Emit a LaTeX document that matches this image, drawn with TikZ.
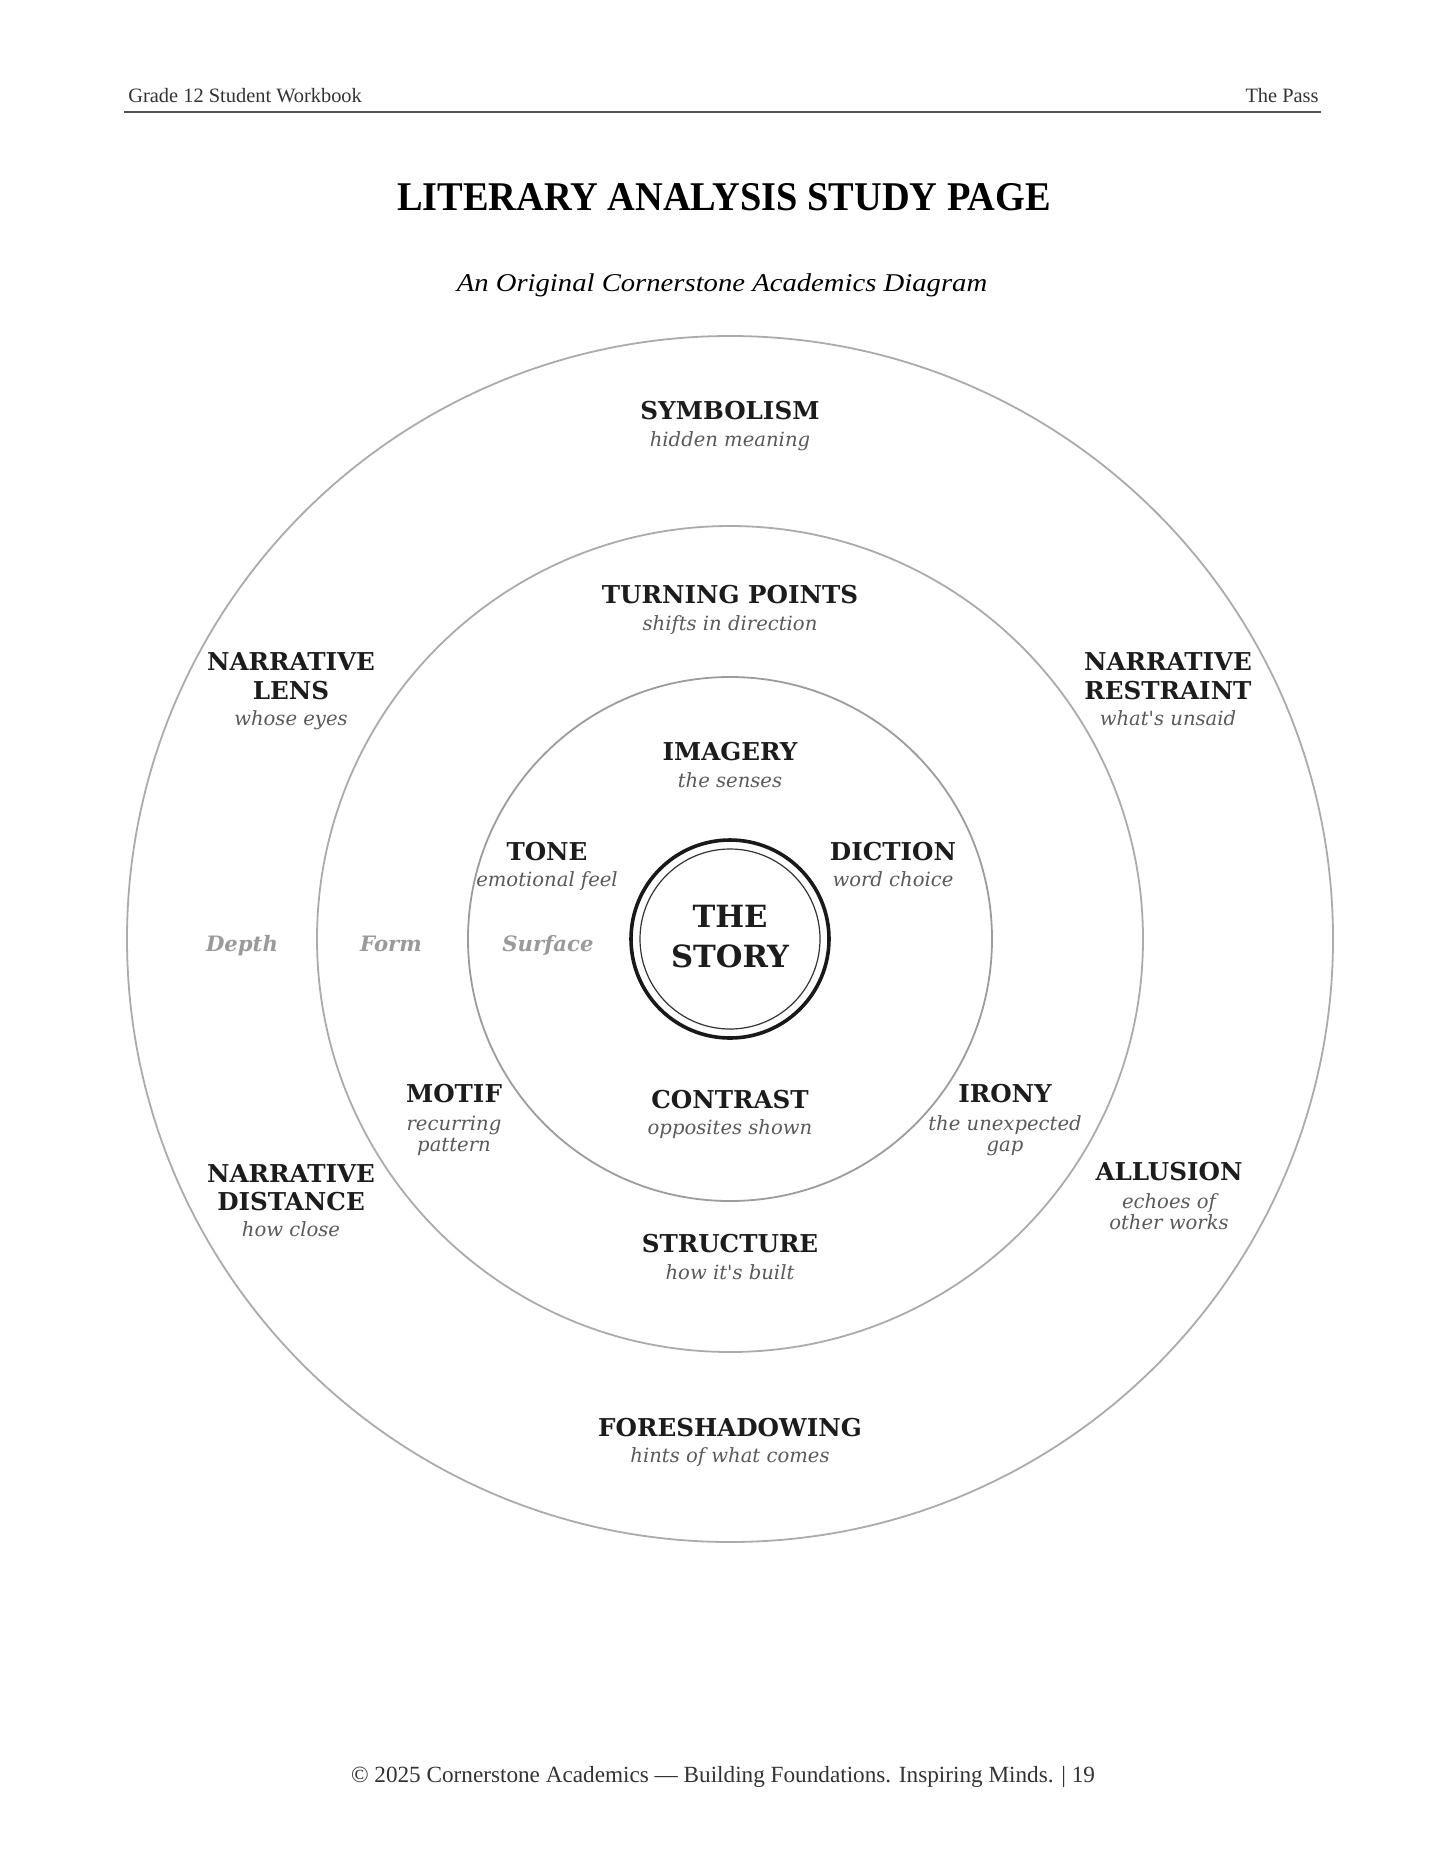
\documentclass[tikz,border=0pt]{standalone}
\usepackage{fontspec}
\usepackage{graphicx}
\setmainfont{Liberation Serif}
\newfontfamily\labfont{DejaVu Serif}
\definecolor{ink}{HTML}{1C1C1C}
\definecolor{subgray}{HTML}{5A5A5A}
\definecolor{faint}{HTML}{9A9A9A}
\definecolor{ringgray}{HTML}{ABABAB}
\definecolor{ringdark}{HTML}{9C9C9C}
\definecolor{hdrgray}{HTML}{333333}
\begin{document}
\begin{tikzpicture}[x=0.5pt,y=-0.5pt,
  ttl/.style={font=\labfont\bfseries\fontsize{12.3}{15}\selectfont, text=ink, anchor=base, inner sep=0pt},
  sublab/.style={font=\labfont\itshape\fontsize{9.8}{11.3}\selectfont, text=subgray, anchor=base, inner sep=0pt},
  layerlab/.style={font=\labfont\bfseries\itshape\fontsize{10.6}{12}\selectfont, text=faint, anchor=base, inner sep=0pt},
  storylab/.style={font=\labfont\bfseries\fontsize{15.3}{19}\selectfont, text=ink, anchor=base, inner sep=0pt},
  hdr/.style={font=\fontsize{10.2}{12}\selectfont, text=hdrgray, inner sep=0pt},
  ring/.style={draw=ringgray, line width=0.9pt},
]
\useasboundingbox[fill=white] (0,0) rectangle (1445,1870);

% header and footer
\node[hdr, anchor=base west] (hleft) at (128,102) {Grade 12 Student Workbook};
\node[hdr, anchor=base east] (hright) at (1319,102) {The Pass};
\coordinate (hl1) at (124,111.5);
\coordinate (hl2) at (1321,111.5);
\draw[draw=hdrgray!85, line width=1pt] (hl1) -- (hl2);

\node[anchor=base, inner sep=0pt, font=\bfseries\fontsize{20.4}{24}\selectfont] (title) at (724,210)
  {\scalebox{0.94}[1]{LITERARY ANALYSIS STUDY PAGE}};
\node[anchor=base, inner sep=0pt, font=\itshape\fontsize{12.8}{15}\selectfont] (subtitle) at (722,291)
  {\scalebox{1.12}[1]{An Original Cornerstone Academics Diagram}};

\node[anchor=base, inner sep=0pt, font=\fontsize{11.6}{14}\selectfont, text=hdrgray] (footer) at (723,1782)
  {© 2025 Cornerstone Academics — Building Foundations. Inspiring Minds. | 19};

% rings
\coordinate (c) at (730,939);
\draw[ring] (c) circle[radius=301.5pt];
\draw[ring] (c) circle[radius=206.5pt];
\draw[ring, draw=ringdark] (c) circle[radius=131pt];
\draw[draw=black!90, line width=1.8pt] (c) circle[radius=49.5pt];
\draw[draw=black!80, line width=0.6pt] (c) circle[radius=45pt];

% center
\node[storylab] (the) at (730,927) {THE};
\node[storylab] (story) at (730,967) {STORY};

% outer ring labels
\node[ttl] (symb) at (730,419) {SYMBOLISM};
\node[sublab] (symb-s) at (730,446) {hidden meaning};
\node[ttl] (lens1) at (291,670) {NARRATIVE};
\node[ttl] (lens2) at (291,699) {LENS};
\node[sublab] (lens-s) at (291,725) {whose eyes};
\node[ttl] (restr1) at (1168,670) {NARRATIVE};
\node[ttl] (restr2) at (1168,699) {RESTRAINT};
\node[sublab] (restr-s) at (1168,725) {what's unsaid};
\node[ttl] (dist1) at (291,1182) {NARRATIVE};
\node[ttl] (dist2) at (291,1210) {DISTANCE};
\node[sublab] (dist-s) at (291,1236) {how close};
\node[ttl] (allu) at (1169,1180) {ALLUSION};
\node[sublab] (allu-s1) at (1169,1208) {echoes of};
\node[sublab] (allu-s2) at (1169,1229) {other works};
\node[ttl] (fore) at (730,1436) {FORESHADOWING};
\node[sublab] (fore-s) at (730,1462) {hints of what comes};

% middle ring labels
\node[ttl] (turn) at (730,603) {TURNING POINTS};
\node[sublab] (turn-s) at (730,630) {shifts in direction};
\node[ttl] (motif) at (454,1102) {MOTIF};
\node[sublab] (motif-s1) at (454,1130) {recurring};
\node[sublab] (motif-s2) at (454,1151) {pattern};
\node[ttl] (irony) at (1005,1102) {IRONY};
\node[sublab] (irony-s1) at (1005,1130) {the unexpected};
\node[sublab] (irony-s2) at (1005,1151) {gap};
\node[ttl] (struct) at (730,1252) {STRUCTURE};
\node[sublab] (struct-s) at (730,1279) {how it's built};

% inner ring labels
\node[ttl] (imag) at (730,760) {IMAGERY};
\node[sublab] (imag-s) at (730,787) {the senses};
\node[ttl] (tone) at (547,860) {TONE};
\node[sublab] (tone-s) at (547,886) {emotional feel};
\node[ttl] (dict) at (893,860) {DICTION};
\node[sublab] (dict-s) at (893,886) {word choice};
\node[ttl] (contr) at (730,1108) {CONTRAST};
\node[sublab] (contr-s) at (730,1134) {opposites shown};

% layer names
\node[layerlab] (depth) at (242,951) {Depth};
\node[layerlab] (form) at (391,951) {Form};
\node[layerlab] (surf) at (548,951) {Surface};
\end{tikzpicture}
\end{document}
